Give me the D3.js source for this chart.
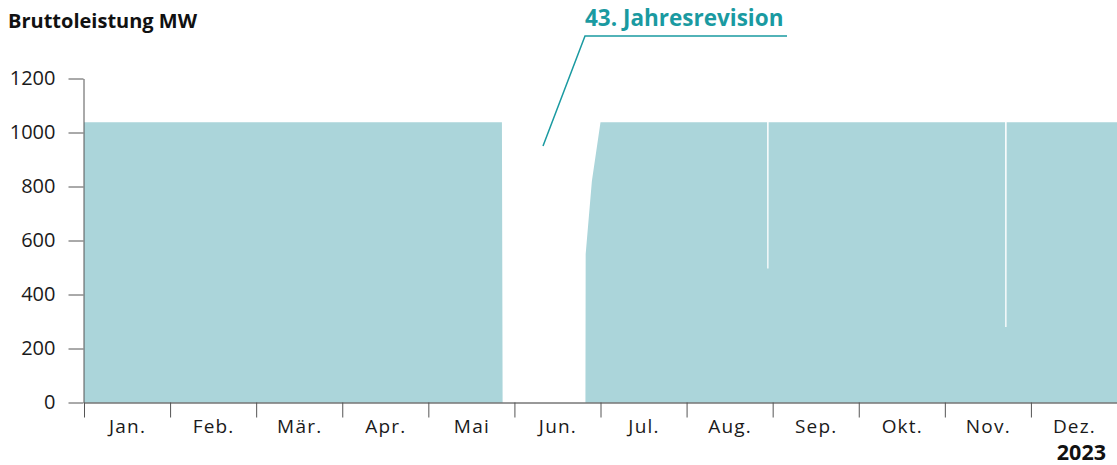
<!DOCTYPE html>
<html><head><meta charset="utf-8">
<script src="https://cdn.jsdelivr.net/npm/d3@7"></script>
<style>
body{margin:0;background:#fff;}
svg{display:block;font-family:"Open Sans","Noto Sans",sans-serif;}
</style></head>
<body><svg id="c" width="1117" height="465"></svg>
<script>
const months = ["Jan.","Feb.","Mär.","Apr.","Mai","Jun.","Jul.","Aug.","Sep.","Okt.","Nov.","Dez."];
const yTicks = [0,200,400,600,800,1000,1200];
// timestamps and gross output (MW)
const times = ["2023-01-01T00:00","2023-05-27T12:00","2023-05-27T18:00","2023-06-25T18:00","2023-06-25T20:00","2023-06-28T00:00","2023-07-01T00:00",
  "2023-08-30T00:00","2023-08-30T01:00","2023-08-30T12:00","2023-08-30T13:00",
  "2023-11-22T00:00","2023-11-22T01:00","2023-11-22T12:00","2023-11-22T13:00","2024-01-01T00:00"];
const values = [1038,1038,0,0,550,820,1038,
  1038,496,496,1038,
  1038,280,280,1038,1038];
const yearLabel = "2023";
const title = "Bruttoleistung MW";
const annotation = "43. Jahresrevision";

const FONT = "'Open Sans','Noto Sans',sans-serif";
const svg = d3.select("#c");
const parse = d3.timeParse("%Y-%m-%dT%H:%M");
// fractional month index: each month has equal width
function monthPos(d){
  const y = d.getFullYear(), m = d.getMonth();
  const start = new Date(y, m, 1), end = new Date(y, m+1, 1);
  return (y-2023)*12 + m + (d - start)/(end - start);
}
const data = times.map((t,i)=>({m: monthPos(parse(t)), v: values[i]}));

const x = d3.scaleLinear().domain([0,12]).range([84,1117]);
const y = d3.scaleLinear().domain([0,1200]).range([402.5,78.5]);

svg.append("path").datum(data)
  .attr("fill","#abd5da")
  .attr("d", d3.area().x(d=>x(d.m)).y0(y(0)).y1(d=>y(d.v)));

// y axis
const ya = svg.append("g").attr("transform","translate(83.5,0)")
  .call(d3.axisLeft(y).tickValues(yTicks).tickSize(15).tickSizeOuter(0).tickPadding(13).tickFormat(d3.format("d")));
ya.select(".domain").attr("stroke","#555");
ya.selectAll(".tick line").attr("stroke","#555");
ya.selectAll("text").attr("font-size",20).attr("fill","#1a1a1a").attr("font-family",FONT);

// x axis ticks
const xa = svg.append("g").attr("transform","translate(0,402.5)")
  .call(d3.axisBottom(x).tickValues(d3.range(0,12)).tickSize(15).tickSizeOuter(0).tickFormat(""));
xa.select(".domain").attr("stroke","#333");
xa.selectAll(".tick line").attr("stroke","#555");
// x labels
const xl = svg.append("g").attr("transform","translate(0,402.5)")
  .call(d3.axisBottom(x).tickValues(d3.range(0,12).map(i=>i+0.5)).tickSize(0).tickPadding(17).tickFormat((d,i)=>months[i]));
xl.select(".domain").remove();
xl.selectAll("text").attr("font-size",19).attr("letter-spacing","1.2px").attr("fill","#1a1a1a").attr("font-family",FONT);

svg.append("text").attr("x",1106).attr("y",459.5).attr("text-anchor","end")
  .attr("font-size",21.5).attr("font-weight","bold").attr("fill","#111").text(yearLabel);
svg.append("text").attr("x",8).attr("y",28)
  .attr("font-size",20).attr("font-weight","bold").attr("fill","#111").text(title);

// annotation
const teal = "#1a9aa1";
svg.append("text").attr("x",585).attr("y",26).attr("font-size",22.5).attr("font-weight","bold").attr("fill",teal).text(annotation);
svg.append("path").attr("fill","none").attr("stroke",teal).attr("stroke-width",1.5)
  .attr("d", d3.line()([[787,36],[585,36],[543,146]]));
</script></body></html>
